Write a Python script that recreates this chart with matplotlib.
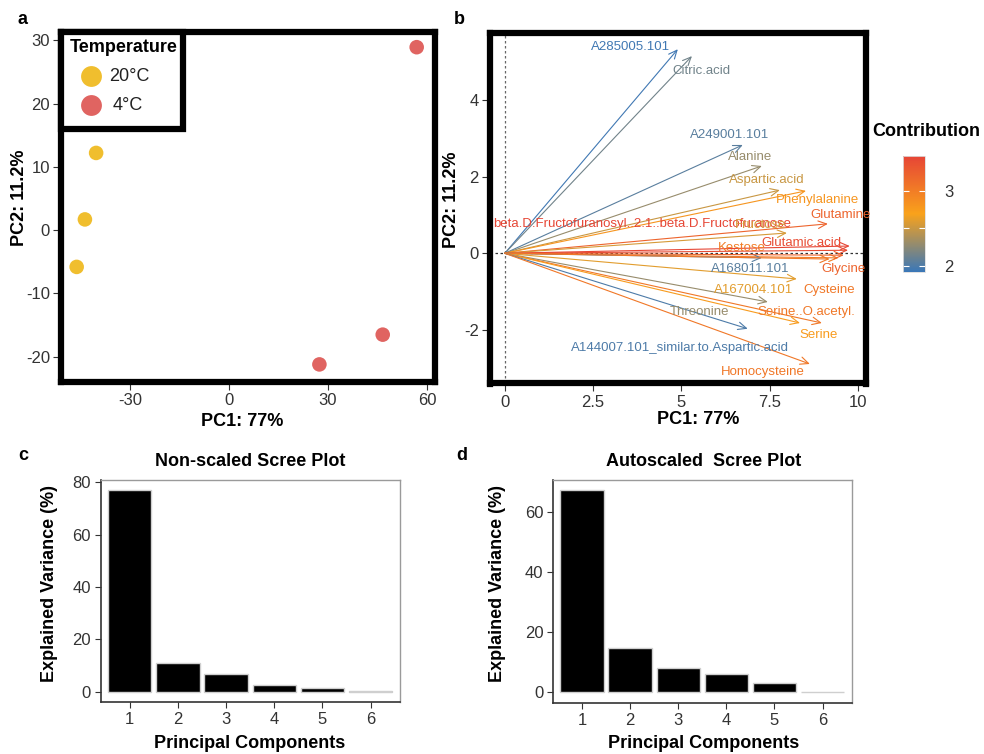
import matplotlib
matplotlib.use("Agg")
import matplotlib.pyplot as plt
from matplotlib.colors import LinearSegmentedColormap, Normalize
from matplotlib.patches import Rectangle, FancyArrowPatch
from matplotlib.lines import Line2D
from matplotlib.cm import ScalarMappable

plt.rcParams['font.family'] = ['Liberation Sans', 'DejaVu Sans']
plt.rcParams['axes.unicode_minus'] = False

W, H = 984, 754

# ---- a: PCA scores per sample ----
temperature = ["20°C", "20°C", "20°C", "4°C", "4°C", "4°C"]
score_pc1 = [-40.3, -43.7, -46.2, 56.9, 46.6, 27.4]
score_pc2 = [12.2, 1.7, -5.8, 28.9, -16.5, -21.2]
temp_levels = ["20°C", "4°C"]

# ---- b: variable loadings and their contributions ----
variables = [
    "A285005.101", "Citric.acid", "A249001.101", "Alanine", "Aspartic.acid",
    "Phenylalanine", "Glutamine",
    "beta.D.Fructofuranosyl..2.1..beta.D.Fructofuranose", "Fructose",
    "Glutamic.acid", "Kestose", "A168011.101", "Glycine", "A167004.101",
    "Cysteine", "Threonine", "Serine..O.acetyl.", "Serine",
    "A144007.101_similar.to.Aspartic.acid", "Homocysteine",
]
load_pc1 = [4.90, 5.30, 6.74, 7.28, 7.79, 8.53, 9.15, 9.77, 7.99, 9.72,
            9.45, 7.28, 9.60, 8.27, 9.20, 7.45, 8.98, 8.36, 6.88, 8.64]
load_pc2 = [5.33, 5.15, 2.83, 2.28, 1.65, 1.63, 0.77, 0.19, 0.53, 0.08,
            -0.12, -0.12, -0.05, -0.67, -0.15, -1.27, -1.82, -1.82, -1.97, -2.89]
contribution = [1.95, 2.15, 2.05, 2.30, 2.50, 2.80, 3.20, 3.45, 2.55, 3.40,
                3.00, 2.05, 3.20, 2.60, 3.05, 2.30, 3.05, 2.75, 2.00, 3.05]

# ---- c, d: scree plots ----
components = [1, 2, 3, 4, 5, 6]
var_nonscaled = [77.0, 11.2, 6.9, 2.8, 1.4, 0.2]
var_autoscaled = [67.2, 14.8, 8.2, 6.0, 3.1, 0.2]

# label placement for the loading plot (data coordinates)
label_pos = {
    "A285005.101": (3.55, 5.40),
    "Citric.acid": (5.58, 4.76),
    "A249001.101": (6.38, 3.10),
    "Alanine": (6.95, 2.51),
    "Aspartic.acid": (7.43, 1.92),
    "Phenylalanine": (8.85, 1.39),
    "Glutamine": (9.50, 1.00),
    "beta.D.Fructofuranosyl..2.1..beta.D.Fructofuranose": (3.88, 0.77),
    "Fructose": (7.25, 0.74),
    "Glutamic.acid": (8.40, 0.26),
    "Kestose": (6.70, 0.14),
    "A168011.101": (6.95, -0.42),
    "Glycine": (9.60, -0.42),
    "A167004.101": (7.05, -0.97),
    "Cysteine": (9.18, -0.97),
    "Threonine": (5.50, -1.52),
    "Serine..O.acetyl.": (8.55, -1.52),
    "Serine": (8.90, -2.14),
    "A144007.101_similar.to.Aspartic.acid": (4.95, -2.47),
    "Homocysteine": (7.30, -3.10),
}

temp_colors = {"20°C": "#F0BE2E", "4°C": "#E06461"}
cmap = LinearSegmentedColormap.from_list(
    "contrib", ["#3A77B8", "#F9A21B", "#E64436"])
norm = Normalize(vmin=1.92, vmax=3.47)

TICK_COLOR = "#333333"


def px_axes(l, t, r, b):
    return fig.add_axes([l / W, 1 - b / H, (r - l) / W, (b - t) / H])


fig = plt.figure(figsize=(W / 100, H / 100), dpi=100)

# ================= a =================
ax_a = px_axes(61, 32, 434.5, 381.5)
for lvl in temp_levels:
    xs = [x for x, t in zip(score_pc1, temperature) if t == lvl]
    ys = [y for y, t in zip(score_pc2, temperature) if t == lvl]
    ax_a.scatter(xs, ys, s=110, color=temp_colors[lvl], edgecolors="none",
                 zorder=3)
ax_a.set_xlim(-50.95, 62.3)
ax_a.set_ylim(-23.9, 31.3)
ax_a.set_xticks([-30, 0, 30, 60])
ax_a.set_yticks([-20, -10, 0, 10, 20, 30])
for sp in ax_a.spines.values():
    sp.set_linewidth(4.5)
    sp.set_color("black")
ax_a.tick_params(direction="out", length=6, width=0.8, color=TICK_COLOR,
                 labelsize=12, labelcolor=TICK_COLOR, pad=2)
ax_a.set_xlabel(f"PC1: {var_nonscaled[0]:g}%", fontsize=13, fontweight="bold")
ax_a.set_ylabel(f"PC2: {var_nonscaled[1]:g}%", fontsize=13, fontweight="bold")
ax_a.xaxis.set_label_coords((242 - 61) / 373.5, (381.5 - 421) / 349.5)
ax_a.xaxis.label.set_va("center")
ax_a.yaxis.set_label_coords((20 - 61) / 373.5, (381.5 - 198) / 349.5)
ax_a.yaxis.label.set_va("center")

# legend box in the top-left corner
lx1 = (183 - 61) / 373.5
ly0 = (381.5 - 129) / 349.5
ax_a.add_patch(Rectangle((0, ly0), lx1, 1 - ly0, transform=ax_a.transAxes,
                         facecolor="white", edgecolor="black", linewidth=4.5,
                         zorder=5, clip_on=False))
ax_a.text((70 - 61) / 373.5, (381.5 - 47) / 349.5, "Temperature",
          transform=ax_a.transAxes, fontsize=13, fontweight="bold",
          ha="left", va="center", zorder=6)
for lvl, ypx, txpx in zip(temp_levels, [76, 105], [109, 113]):
    ax_a.add_line(Line2D([(90.7 - 61) / 373.5], [(381.5 - ypx) / 349.5],
                         transform=ax_a.transAxes, marker="o", markersize=15,
                         color=temp_colors[lvl], markeredgewidth=0,
                         linestyle="none", zorder=6))
    ax_a.text((txpx - 61) / 373.5, (381.5 - ypx) / 349.5, lvl,
              transform=ax_a.transAxes, fontsize=13, ha="left", va="center",
              color="#222222", zorder=6)

# ================= b =================
ax_b = px_axes(490, 33.5, 866, 383.5)
ax_b.axhline(0, color="#333333", linestyle=(0, (2, 2)), linewidth=0.9, zorder=1)
ax_b.axvline(0, color="#666666", linestyle=(0, (2, 2)), linewidth=0.9, zorder=1)
for name, x, y, c in zip(variables, load_pc1, load_pc2, contribution):
    col = cmap(norm(c))
    arr = FancyArrowPatch((0, 0), (x, y),
                          arrowstyle="->,head_length=0.6,head_width=0.27",
                          mutation_scale=10, color=col, linewidth=0.8,
                          shrinkA=0, shrinkB=0, zorder=2)
    ax_b.add_patch(arr)
for name, c in zip(variables, contribution):
    lx, ly = label_pos[name]
    ax_b.text(lx, ly, name, color=cmap(norm(c)), fontsize=9.5,
              ha="center", va="center", zorder=3)
ax_b.set_xlim(-0.42, 10.23)
ax_b.set_ylim(-3.4, 5.74)
ax_b.set_xticks([0, 2.5, 5, 7.5, 10])
ax_b.set_xticklabels(["0", "2.5", "5", "7.5", "10"])
ax_b.set_yticks([-2, 0, 2, 4])
for sp in ax_b.spines.values():
    sp.set_linewidth(4.5)
    sp.set_color("black")
ax_b.tick_params(direction="out", length=6, width=0.8, color=TICK_COLOR,
                 labelsize=12, labelcolor=TICK_COLOR, pad=2)
ax_b.set_xlabel(f"PC1: {var_nonscaled[0]:g}%", fontsize=13, fontweight="bold")
ax_b.set_ylabel(f"PC2: {var_nonscaled[1]:g}%", fontsize=13, fontweight="bold")
ax_b.xaxis.set_label_coords((698 - 490) / 376, (383.5 - 420) / 350)
ax_b.xaxis.label.set_va("center")
ax_b.yaxis.set_label_coords((452 - 490) / 376, (383.5 - 200) / 350)
ax_b.yaxis.label.set_va("center")

# colour bar for contribution
cax = px_axes(903, 155.5, 925, 272)
cb = fig.colorbar(ScalarMappable(norm=norm, cmap=cmap), cax=cax,
                  ticks=[2, 2.5, 3])
cb.ax.set_yticklabels(["2", "", "3"])
cb.outline.set_edgecolor("#dddddd")
cb.outline.set_linewidth(0.6)
cax.tick_params(which="major", direction="in", length=4, width=0.8,
                color="white", left=True, right=True, labelsize=12,
                labelcolor=TICK_COLOR, pad=14)
fig.text(926.5 / W, 1 - 131.5 / H, "Contribution", fontsize=13,
         fontweight="bold", ha="center", va="center")


# ================= c, d =================
def scree(ax, values, title, ymax, ymin, yticks, title_x, ylabel_x):
    ax.bar(components, values, width=0.9, color="black",
           edgecolor="#cfcfcf", linewidth=1.0, zorder=2)
    ax.set_xlim(0.4, 6.61)
    ax.set_ylim(ymin, ymax)
    ax.set_xticks(components)
    ax.set_yticks(yticks)
    for side in ("top", "right"):
        ax.spines[side].set_color("#9a9a9a")
        ax.spines[side].set_linewidth(1.0)
    for side in ("left", "bottom"):
        ax.spines[side].set_color("#333333")
        ax.spines[side].set_linewidth(1.2)
    ax.tick_params(direction="out", length=4, width=0.8, color=TICK_COLOR,
                   labelsize=12, labelcolor=TICK_COLOR, pad=3)
    ax.set_xlabel("Principal Components", fontsize=13, fontweight="bold")
    ax.set_ylabel("Explained Variance (%)", fontsize=13, fontweight="bold")
    l, b, w, h = ax.get_position().bounds
    lpx, rpx = l * W, (l + w) * W
    tpx, bpx = (1 - b - h) * H, (1 - b) * H
    ax.xaxis.set_label_coords((title_x - lpx) / (rpx - lpx),
                              (bpx - 744) / (bpx - tpx))
    ax.xaxis.label.set_va("center")
    ax.yaxis.set_label_coords((ylabel_x - lpx) / (rpx - lpx),
                              (bpx - 583) / (bpx - tpx))
    ax.yaxis.label.set_va("center")
    ax.text((title_x - lpx) / (rpx - lpx), (bpx - 461.7) / (bpx - tpx), title,
            transform=ax.transAxes, fontsize=13, fontweight="bold",
            ha="center", va="center")


ax_c = px_axes(100.7, 480, 400, 702)
scree(ax_c, var_nonscaled, "Non-scaled Scree Plot", 80.8, -3.85,
      [0, 20, 40, 60, 80], 250, 50)
ax_d = px_axes(553, 480, 852, 703)
scree(ax_d, var_autoscaled, "Autoscaled  Scree Plot", 70.5, -3.55,
      [0, 20, 40, 60], 704, 498)

# panel letters
for letter, xp, yp in [("a", 23, 20), ("b", 459, 20), ("c", 23, 455),
                       ("d", 462, 455)]:
    fig.text(xp / W, 1 - yp / H, letter, fontsize=13, fontweight="bold",
             ha="center", va="center")

fig.savefig("out.png", dpi=100)
